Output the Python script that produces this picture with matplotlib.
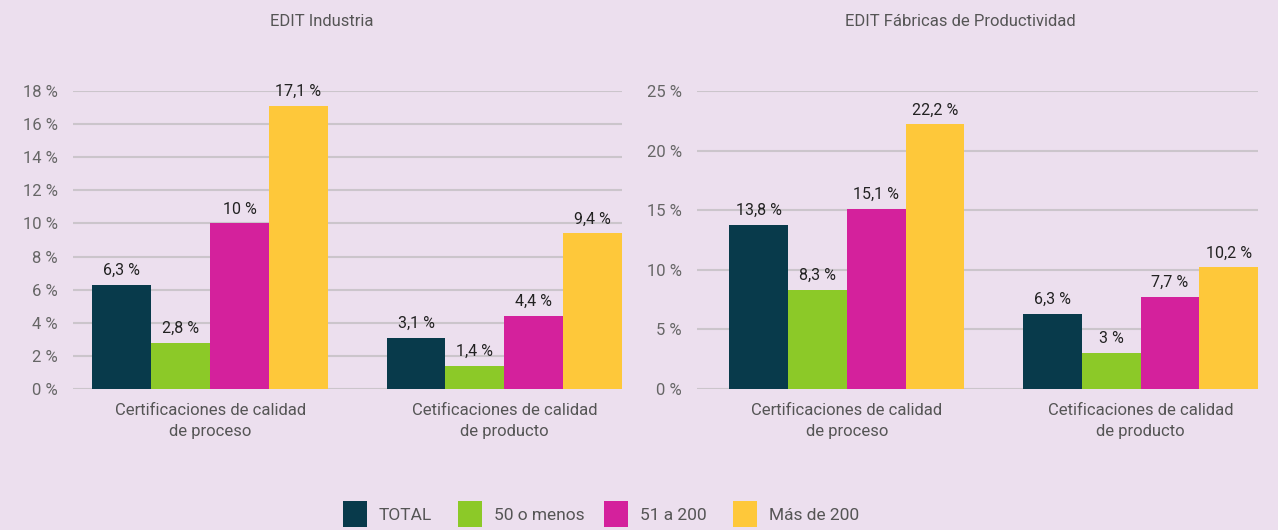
import matplotlib
matplotlib.use("Agg")
import matplotlib.pyplot as plt
from matplotlib.patches import Rectangle
import numpy as np

plt.rcParams['font.family'] = ['Roboto', 'DejaVu Sans']

titles = ["EDIT Industria", "EDIT Fábricas de Productividad"]
categories = ["Certificaciones de calidad\nde proceso", "Cetificaciones de calidad\nde producto"]
series = ["TOTAL", "50 o menos", "51 a 200", "Más de 200"]
colors = ["#083a4b", "#8cc928", "#d4219c", "#fec83a"]
industria = [[6.3, 3.1], [2.8, 1.4], [10.0, 4.4], [17.1, 9.4]]
fabricas = [[13.8, 6.3], [8.3, 3.0], [15.1, 7.7], [22.2, 10.2]]
yticks_left = [0, 2, 4, 6, 8, 10, 12, 14, 16, 18]
yticks_right = [0, 5, 10, 15, 20, 25]

bg = "#ecdfee"
W, H = 1278, 530
fig = plt.figure(figsize=(W / 100, H / 100), dpi=100, facecolor=bg)


def fmt(v):
    s = f"{v:.1f}".rstrip("0").rstrip(".")
    return s.replace(".", ",") + " %"


def draw(ax, data, yticks, xleft):
    ax.set_facecolor(bg)
    x = np.arange(len(categories))
    bw = 0.2
    for i, (vals, c) in enumerate(zip(data, colors)):
        pos = x - 0.3 + i * bw
        ax.bar(pos, vals, width=bw, color=c, zorder=3)
        for p, v in zip(pos, vals):
            ax.annotate(fmt(v), (p, v), xytext=(0, 5), textcoords="offset points",
                        ha="center", va="bottom", fontsize=11.5, color="#222222",
                        clip_on=False, zorder=4)
    ax.set_xlim(xleft, 1.4)
    ax.set_ylim(0, yticks[-1])
    ax.set_yticks(yticks)
    ax.set_yticklabels([f"{t} %" for t in yticks], fontsize=12, color="#666666")
    ax.set_xticks(x)
    ax.set_xticklabels(categories, fontsize=12, color="#555555", linespacing=1.5)
    ax.tick_params(length=0, axis="y", pad=11)
    ax.tick_params(length=0, axis="x", pad=10)
    ax.grid(axis="y", color="#cbc5cb", linewidth=1.5, zorder=0)
    for s in ax.spines.values():
        s.set_visible(False)


bottom = (H - 389) / H
height = (389 - 91) / H
ax1 = fig.add_axes([73 / W, bottom, (622 - 73) / W, height])
ax2 = fig.add_axes([697 / W, bottom, (1258 - 697) / W, height])
draw(ax1, industria, yticks_left, -0.466)
draw(ax2, fabricas, yticks_right, -0.51)

fig.text(322 / W, 1 - 22 / H, titles[0], ha="center", va="center", fontsize=12, color="#555555")
fig.text(960 / W, 1 - 22 / H, titles[1], ha="center", va="center", fontsize=12, color="#555555")

# legend
sq_x = [343, 458, 604, 733]
for xs, lab, c in zip(sq_x, series, colors):
    fig.add_artist(Rectangle((xs / W, 3 / H), 24 / W, 26 / H, transform=fig.transFigure,
                             facecolor=c, edgecolor="none"))
    fig.text((xs + 36) / W, 15 / H, lab, ha="left", va="center", fontsize=12.5, color="#555555")

fig.savefig("out.png", dpi=100, facecolor=bg)
